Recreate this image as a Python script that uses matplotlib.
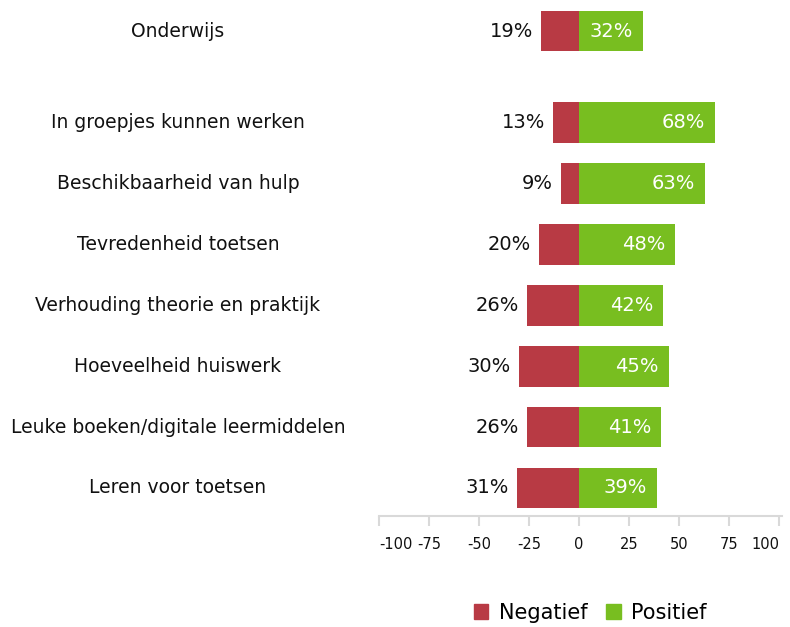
import matplotlib.pyplot as plt
import matplotlib.transforms as mtransforms
from matplotlib.patches import Patch

NEG_COLOR = "#B83A44"
POS_COLOR = "#78BE20"

categories = ["Onderwijs", "In groepjes kunnen werken", "Beschikbaarheid van hulp",
              "Tevredenheid toetsen", "Verhouding theorie en praktijk",
              "Hoeveelheid huiswerk", "Leuke boeken/digitale leermiddelen",
              "Leren voor toetsen"]
negatief = [19, 13, 9, 20, 26, 30, 26, 31]
positief = [32, 68, 63, 48, 42, 45, 41, 39]
ticks = [-100, -75, -50, -25, 0, 25, 50, 75, 100]

# first row sits apart from the rest
ypos = [0] + [1.5 + i for i in range(len(categories) - 1)]

fig = plt.figure(figsize=(7.9, 6.27), dpi=100)
ax = fig.add_axes([379 / 790, 1 - 516 / 627, 403 / 790, 516 / 627])

h = 0.67
ax.barh(ypos, [-v for v in negatief], height=h, color=NEG_COLOR)
ax.barh(ypos, positief, height=h, color=POS_COLOR)

for y, n, p in zip(ypos, negatief, positief):
    ax.annotate(f"{n}%", (-n, y), xytext=(-8, 0), textcoords="offset pixels",
                ha="right", va="center", fontsize=14, color="#111111")
    ax.annotate(f"{p}%", (p, y), xytext=(-10, 0), textcoords="offset pixels",
                ha="right", va="center", fontsize=14, color="white")

trans = mtransforms.blended_transform_factory(fig.transFigure, ax.transData)
for y, c in zip(ypos, categories):
    ax.text(178 / 790, y, c, transform=trans, ha="center", va="center",
            fontsize=13.5, color="#111111")

ax.set_xlim(-100, 101.5)
ax.set_ylim(7.96, -0.51)
ax.set_yticks([])
for s in ["top", "right", "left"]:
    ax.spines[s].set_visible(False)
ax.spines["bottom"].set_color("#d9d9d9")
ax.spines["bottom"].set_linewidth(1.5)
ax.set_xticks(ticks)
ax.set_xticklabels([str(t) for t in ticks])
ax.tick_params(axis="x", length=7, width=1.5, color="#d9d9d9", labelsize=10.5,
               labelcolor="#111111", pad=8)
labels = ax.get_xticklabels()
labels[0].set_ha("left")
labels[-1].set_ha("right")

handles = [Patch(color=NEG_COLOR, label="Negatief"), Patch(color=POS_COLOR, label="Positief")]
fig.legend(handles=handles, loc="center", bbox_to_anchor=(590 / 790, 1 - 613 / 627),
           ncol=2, frameon=False, fontsize=15, handlelength=0.7, handleheight=0.7,
           handletextpad=0.5, columnspacing=0.9)

fig.savefig("out.png", dpi=100)
